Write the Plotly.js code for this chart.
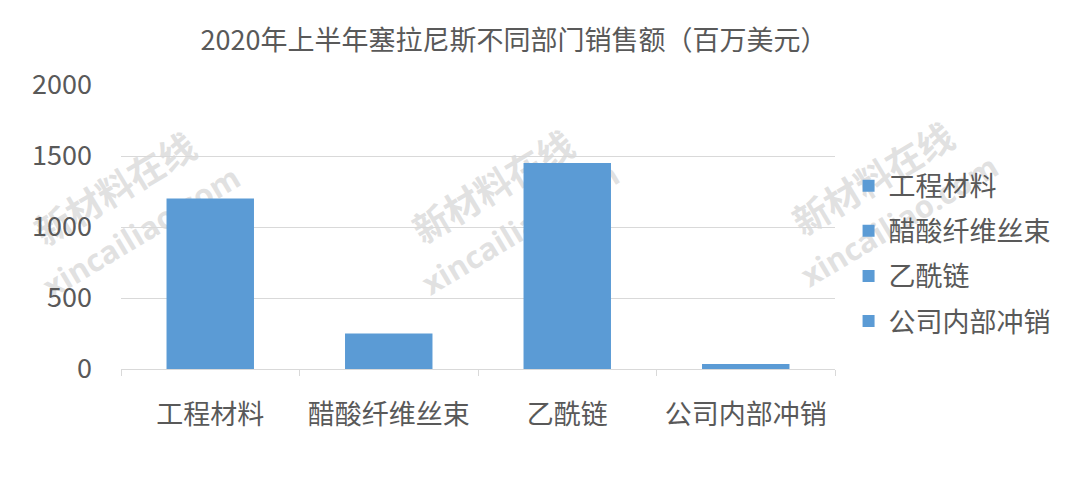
<!DOCTYPE html>
<html><head><meta charset="utf-8">
<script src="https://cdn.plot.ly/plotly-3.0.1.min.js"></script>
<style>html,body{margin:0;padding:0;background:#fff}#chart{width:1080px;height:489px}</style>
</head><body><div id="chart"></div>
<script>
const categories = ["工程材料", "醋酸纤维丝束", "乙酰链", "公司内部冲销"];
const sales = [1200, 250, 1450, 35];
const yTicks = [0, 500, 1000, 1500, 2000];
const chartTitle = "2020年上半年塞拉尼斯不同部门销售额（百万美元）";
const watermarkTop = "新材料在线";
const watermarkBottom = "xincailiao.com";

const FONT = "'Noto Sans CJK SC', 'Microsoft YaHei', sans-serif";
const barColor = "#5b9bd5";
const W = 1080, H = 489;
const M = {l: 121, r: 245, t: 85, b: 120};
const PW = W - M.l - M.r, PH = H - M.t - M.b;

const traces = categories.map((c, i) => ({
  type: "bar",
  name: c,
  x: [c],
  y: [sales[i]],
  marker: {color: barColor},
  legendgroup: "g" + i,
  hoverinfo: "x+y"
}));

// watermark centres in pixels (top line, bottom line)
const wmCentres = [[[117, 192], [142, 233]], [[495, 190], [521, 230]], [[875, 182], [900, 222]]];
const wmColor = "rgba(200,200,200,0.55)";
const shapes = [];
function wmShape(px, py, text, fam, size) {
  const x = (px - M.l) / PW, y = (H - M.b - py) / PH;
  return {type: "rect", xref: "paper", yref: "paper", layer: "below",
    x0: x - 0.001, x1: x + 0.001, y0: y - 0.001, y1: y + 0.001,
    line: {width: 0}, fillcolor: "rgba(0,0,0,0)",
    label: {text: text, textangle: -31, textposition: "middle center",
      font: {family: fam, size: size, color: wmColor, weight: "bold"}}};
}
wmCentres.forEach(c => {
  shapes.push(wmShape(c[0][0], c[0][1], watermarkTop, FONT, 36));
  shapes.push(wmShape(c[1][0], c[1][1], watermarkBottom, "'Open Sans', sans-serif", 31));
});

const layout = {
  width: W, height: H,
  margin: M,
  paper_bgcolor: "#fff", plot_bgcolor: "rgba(0,0,0,0)",
  font: {family: FONT, color: "#595959"},
  title: {text: chartTitle, x: 0.476, xanchor: "center", y: 0.918, yanchor: "middle",
    font: {family: FONT, size: 27, color: "#595959"}},
  barmode: "overlay",
  bargap: 0.51,
  xaxis: {
    type: "category",
    categoryorder: "array", categoryarray: categories,
    showline: true, linecolor: "#d9d9d9", linewidth: 1,
    ticks: "outside", tickson: "boundaries", ticklen: 6, tickcolor: "#d9d9d9",
    tickfont: {family: FONT, size: 27, color: "#595959"},
    ticklabelstandoff: 22,
    showgrid: false, zeroline: false,
    automargin: false
  },
  yaxis: {
    range: [0, 2000],
    tickvals: yTicks,
    showgrid: true, gridcolor: "#d9d9d9", gridwidth: 1,
    zeroline: false, showline: false,
    tickfont: {family: FONT, size: 27, color: "#595959"},
    ticks: "", ticklabelstandoff: 28,
    automargin: false
  },
  showlegend: true,
  legend: {
    x: 1.019, xanchor: "left", y: 0.73, yanchor: "top",
    font: {family: FONT, size: 27, color: "#595959"},
    tracegroupgap: 7, itemwidth: 30,
    bgcolor: "rgba(0,0,0,0)", traceorder: "grouped"
  },
  shapes: shapes
};

Plotly.newPlot("chart", traces, layout, {displayModeBar: false, staticPlot: true});
</script></body></html>
